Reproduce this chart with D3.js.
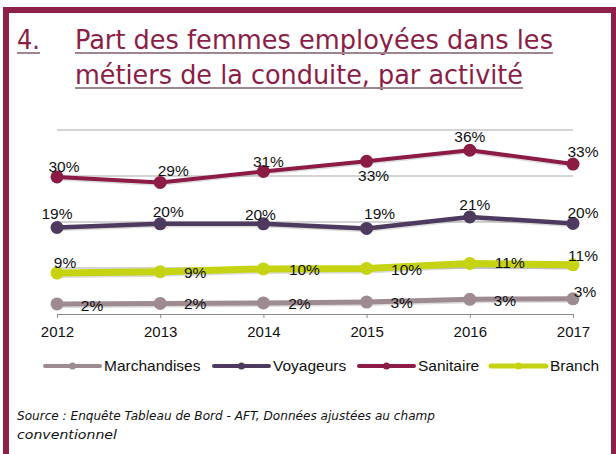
<!DOCTYPE html>
<html>
<head>
<meta charset="utf-8">
<script src="https://cdn.jsdelivr.net/npm/d3@7"></script>
<style>
  html, body { margin: 0; padding: 0; background: #fff; }
  svg { display: block; }
  .tick-label, .data-label, .legend-label { font-family: "Liberation Sans", Arial, Helvetica, sans-serif; fill: #111; }
</style>
</head>
<body>
<svg id="chart" width="616" height="454"></svg>
<script>
// --- données ---
const years = ["2012", "2013", "2014", "2015", "2016", "2017"];
const seriesNames = ["Marchandises", "Voyageurs", "Sanitaire", "Branch"];
const marchandises = [2.2, 2.3, 2.4, 2.6, 3.2, 3.3];
const voyageurs = [18.8, 19.6, 19.6, 18.6, 21.1, 19.7];
const sanitaire = [29.8, 28.6, 31.0, 33.2, 35.6, 32.6];
const branch = [8.9, 9.2, 9.8, 9.9, 11.0, 10.7];
const labels = {
    Marchandises: ["2%", "2%", "2%", "3%", "3%", "3%"],
    Voyageurs: ["19%", "20%", "20%", "19%", "21%", "20%"],
    Sanitaire: ["30%", "29%", "31%", "33%", "36%", "33%"],
    Branch: ["9%", "9%", "10%", "10%", "11%", "11%"]
};
const yTicks = [0, 10, 20, 30, 40];

// placement des étiquettes (décalage par rapport au point)
const labelOffsets = {
    Marchandises: [[35, 7], [35, 6], [36, 6], [35, 6], [35, 7], [12, -2]],
    Voyageurs: [[0, -9], [8, -7], [-3, -4], [13, -9], [5, -7], [10, -5]],
    Sanitaire: [[7, -5], [13, -6], [5, -4], [7, 20], [0, -8], [10, -7]],
    Branch: [[8, -5], [35, 6], [41, 6], [40, 7], [40, 5], [10, -4]]
};

const colors = {
    Marchandises: "#9e8b92",
    Voyageurs: "#4f3a5f",
    Sanitaire: "#8c1c46",
    Branch: "#c6d312"
};
const widths = { Marchandises: 5, Voyageurs: 4.5, Sanitaire: 4, Branch: 7 };

const values = {
    Marchandises: marchandises,
    Voyageurs: voyageurs,
    Sanitaire: sanitaire,
    Branch: branch
};

const svg = d3.select("#chart");
const titleColor = "#8b1d47";

// Cadre
svg.append("rect")
    .attr("x", 6).attr("y", 10)
    .attr("width", 608).attr("height", 470)
    .attr("fill", "none")
    .attr("stroke", "#8e1f47")
    .attr("stroke-width", 6);

// Titre
const titleFont = "'DejaVu Sans Condensed', 'Liberation Sans Narrow', 'Liberation Sans', sans-serif";
function titleLine(txt, x, y, len) {
    svg.append("text")
        .attr("x", x).attr("y", y)
        .attr("font-family", titleFont)
        .attr("font-size", 27)
        .attr("fill", titleColor)
        .attr("textLength", len)
        .attr("lengthAdjust", "spacingAndGlyphs")
        .text(txt);
    svg.append("line")
        .attr("x1", x).attr("x2", x + len)
        .attr("y1", y + 4).attr("y2", y + 4)
        .attr("stroke", "#9c8690")
        .attr("stroke-width", 2);
}
titleLine("4.", 17, 49, 23);
titleLine("Part des femmes employées dans les", 75, 49, 478);
titleLine("métiers de la conduite, par activité", 75, 84, 448);

// Echelles
const x = d3.scalePoint().domain(years).range([57, 573]).padding(0);
const y = d3.scaleLinear().domain([0, 40]).range([314, 130]);

// Grille
svg.append("g")
    .selectAll("line")
    .data(yTicks.filter(d => d > 0))
    .join("line")
    .attr("x1", 57).attr("x2", 573)
    .attr("y1", d => y(d)).attr("y2", d => y(d))
    .attr("stroke", "#a9a9a9")
    .attr("stroke-width", 1);

// Axe X
const xAxis = svg.append("g")
    .attr("transform", `translate(0,${y(0)})`)
    .call(d3.axisBottom(x).tickSize(4).tickSizeOuter(0).tickPadding(8));
xAxis.select(".domain").attr("stroke", "#8a8a8a").attr("d", "M57,0.5H573");
xAxis.selectAll(".tick line").attr("stroke", "#8a8a8a");
xAxis.selectAll("text")
    .attr("class", "tick-label")
    .attr("font-size", 15)
    .attr("fill", "#111");

// Séries
const line = d3.line().x((d, i) => x(years[i])).y(d => y(d));

const drawOrder = ["Marchandises", "Branch", "Voyageurs", "Sanitaire"];
drawOrder.forEach(name => {
    const g = svg.append("g");
    // légère ombre
    g.append("path")
        .datum(values[name])
        .attr("d", line)
        .attr("transform", "translate(0,1.5)")
        .attr("fill", "none")
        .attr("stroke", "#999")
        .attr("stroke-opacity", 0.35)
        .attr("stroke-width", widths[name]);
    g.append("path")
        .datum(values[name])
        .attr("d", line)
        .attr("fill", "none")
        .attr("stroke", colors[name])
        .attr("stroke-width", widths[name])
        .attr("stroke-linejoin", "round");
    g.selectAll("circle")
        .data(values[name])
        .join("circle")
        .attr("cx", (d, i) => x(years[i]))
        .attr("cy", d => y(d))
        .attr("r", 6.5)
        .attr("fill", colors[name]);
});

// Etiquettes de données
seriesNames.forEach(name => {
    svg.append("g")
        .selectAll("text")
        .data(values[name])
        .join("text")
        .attr("class", "data-label")
        .attr("x", (d, i) => x(years[i]) + labelOffsets[name][i][0])
        .attr("y", (d, i) => y(d) + labelOffsets[name][i][1])
        .attr("text-anchor", "middle")
        .attr("font-size", 15.5)
        .text((d, i) => labels[name][i]);
});

// Légende
const legendX = [45, 214, 359, 491];
const legend = svg.append("g").attr("transform", "translate(0,366)");
seriesNames.forEach((name, i) => {
    const lg = legend.append("g").attr("transform", `translate(${legendX[i]},0)`);
    lg.append("line")
        .attr("x1", 0).attr("x2", 55)
        .attr("stroke", colors[name])
        .attr("stroke-width", name === "Branch" ? 5 : 4)
        .attr("stroke-linecap", "round");
    lg.append("circle")
        .attr("cx", 27.5).attr("r", 3.5)
        .attr("fill", colors[name]);
    lg.append("text")
        .attr("class", "legend-label")
        .attr("x", 59).attr("y", 5)
        .attr("font-size", 15.5)
        .text(name);
});

// Source
const srcFont = "'DejaVu Sans', Verdana, sans-serif";
svg.append("text")
    .attr("x", 17).attr("y", 420)
    .attr("font-family", srcFont)
    .attr("font-style", "italic")
    .attr("font-size", 13)
    .attr("fill", "#111")
    .attr("textLength", 418)
    .attr("lengthAdjust", "spacingAndGlyphs")
    .text("Source : Enquête Tableau de Bord - AFT, Données ajustées au champ");
svg.append("text")
    .attr("x", 17).attr("y", 439)
    .attr("font-family", srcFont)
    .attr("font-style", "italic")
    .attr("font-size", 13)
    .attr("fill", "#111")
    .attr("textLength", 100)
    .attr("lengthAdjust", "spacingAndGlyphs")
    .text("conventionnel");
</script>
</body>
</html>
